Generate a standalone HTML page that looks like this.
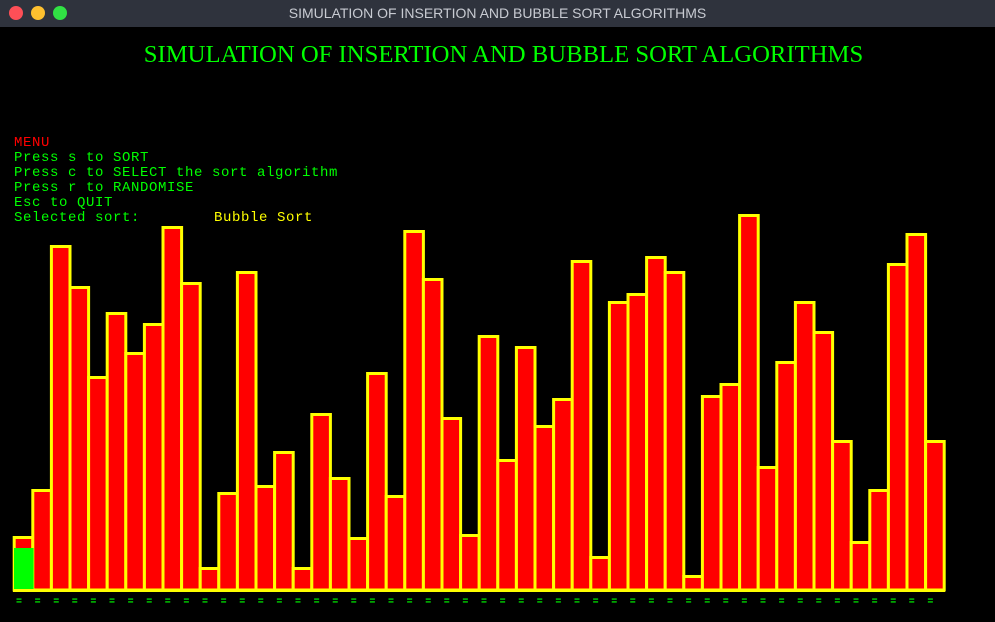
<!DOCTYPE html>
<html><head><meta charset="utf-8"><style>
html,body{margin:0;padding:0;background:#000;width:995px;height:622px;overflow:hidden}
#titlebar{position:absolute;left:0;top:0;width:995px;height:27px;background:#2f333d}
.dot{position:absolute;top:6px;width:14px;height:14px;border-radius:50%}
#wtitle{position:absolute;top:0;left:0;width:995px;text-align:center;color:#c8cbd2;font:14px "Liberation Sans",sans-serif;line-height:27px}
#heading{position:absolute;top:41px;left:0;width:1007px;text-align:center;color:#00ff00;font:24.7px "Liberation Serif",serif}
.menu{position:absolute;left:14px;font:14px "Liberation Mono",monospace;letter-spacing:0.6px;line-height:15px;color:#00ff00;white-space:pre}
</style></head><body>
<div id="titlebar">
<div class="dot" style="left:9px;background:#fe4f57"></div>
<div class="dot" style="left:31px;background:#fec02f"></div>
<div class="dot" style="left:53px;background:#31e144"></div>
<div id="wtitle">SIMULATION OF INSERTION AND BUBBLE SORT ALGORITHMS</div>
</div>
<div id="heading">SIMULATION OF INSERTION AND BUBBLE SORT ALGORITHMS</div>
<div class="menu" style="top:136px;color:#ff0000">MENU</div>
<div class="menu" style="top:151px">Press s to SORT</div>
<div class="menu" style="top:166px">Press c to SELECT the sort algorithm</div>
<div class="menu" style="top:181px">Press r to RANDOMISE</div>
<div class="menu" style="top:196px">Esc to QUIT</div>
<div class="menu" style="top:211px">Selected sort:</div>
<div class="menu" style="top:211px;left:214px;color:#ffff00">Bubble Sort</div>
<svg id="chart" width="995" height="622" style="position:absolute;left:0;top:0"></svg>
<script>
const values=[54,101,345,304,214,278,238,267,364,308,23,98,319,105,139,23,177,113,53,218,95,360,312,173,56,255,131,244,165,192,330,34,289,297,334,319,15,195,207,376,124,229,289,259,150,49,101,327,357,150];
const highlight=[42];
const NS="http://www.w3.org/2000/svg";
const svg=document.getElementById('chart');
const x0=13,bw=18.6,base=590;
function xs(i){return x0+i*bw;}
function ys(v){return base-v;}
values.forEach((v,i)=>{
  const r=document.createElementNS(NS,'rect');
  
  
  r.setAttribute('x',xs(i)+1.2);r.setAttribute('y',ys(v)+1.5);
  r.setAttribute('width',bw);r.setAttribute('height',Math.max(v-1.5,0));
  r.setAttribute('fill','#ff0000');r.setAttribute('stroke','#ffff00');r.setAttribute('stroke-width','3');
  svg.appendChild(r);
  const t=document.createElementNS(NS,'text');
  
  
  t.setAttribute('x',xs(i)+3);t.setAttribute('y',604);
  t.setAttribute('fill','#00ff00');t.setAttribute('font-family','Liberation Mono, monospace');t.setAttribute('font-size','10');t.setAttribute('font-weight','bold');
  t.textContent='=';
  svg.appendChild(t);
});
highlight.forEach((v,i)=>{
  const g=document.createElementNS(NS,'rect');
  
  
  g.setAttribute('x',xs(i)+1);g.setAttribute('y',ys(v));
  g.setAttribute('width',bw+1);g.setAttribute('height',v);
  g.setAttribute('fill','#00ff00');
  svg.appendChild(g);
});
const bl=document.createElementNS(NS,'rect');


bl.setAttribute('x',x0);bl.setAttribute('y',base-1);bl.setAttribute('width',values.length*bw+2);bl.setAttribute('height',3);
bl.setAttribute('fill','#ffff00');
svg.appendChild(bl);
</script>
</body></html>
